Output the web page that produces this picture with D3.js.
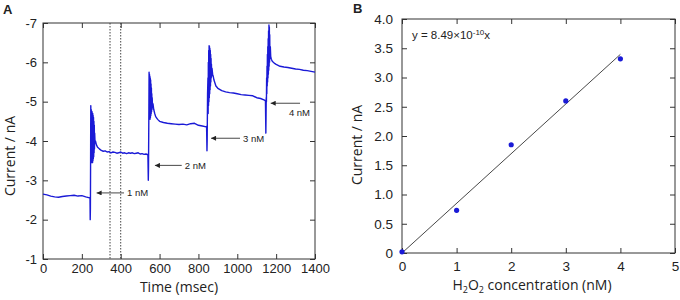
<!DOCTYPE html>
<html lang="en">
<head>
<meta charset="UTF-8">
<title>H2O2 amperometric response</title>
<script src="https://cdn.jsdelivr.net/npm/d3@7/dist/d3.min.js"></script>
<style>
  body { margin: 0; background: #fff; }
  svg text { fill: #222; }
  .tick text { font-family: Arial, "Liberation Sans", sans-serif; font-size: 13px; }
  .panelB .tick text { font-size: 13.5px; }
  .title { font-family: "Open Sans", sans-serif; font-size: 14px; }
</style>
</head>
<body>
<div id="chart"></div>
<script>
// panel A: current trace (msec, nA)
const timeMs = [0, 20, 40, 60, 80, 100, 120, 140, 160, 180, 200, 220, 235, 242,
  243, 244, 245, 246, 247, 248, 249, 250, 251, 252, 253, 254, 255, 256, 257, 258, 259, 260,
  261, 262, 263, 264, 265, 266, 268, 270, 275, 280, 290, 300, 310, 320, 330, 340, 350, 360,
  370, 380, 390, 400, 410, 420, 430, 440, 450, 460, 470, 480, 490, 500, 510, 520, 530, 540,
  542, 543, 545, 546, 547, 548, 549, 550, 551, 552, 553, 554, 555, 556, 557, 558, 559, 560,
  561, 562, 564, 566, 570, 575, 580, 590, 600, 620, 640, 660, 680, 700, 720, 740, 760, 780,
  800, 820, 840, 842,
  844, 845, 847, 849, 850, 851, 852, 853, 854, 855, 856, 857, 858, 859, 860, 861, 862, 863,
  864, 865, 866, 867, 868, 870, 873, 876, 880, 890, 900, 920, 940, 960, 980, 1000, 1020,
  1040, 1060, 1080, 1100, 1120, 1140, 1145,
  1147, 1148, 1149, 1150, 1151, 1152, 1153, 1154, 1155, 1156, 1157, 1158, 1159, 1160, 1161,
  1162, 1163, 1164, 1165, 1166, 1167, 1168, 1170, 1172, 1175, 1180, 1190, 1200, 1220, 1240,
  1260, 1280, 1300, 1320, 1340, 1360, 1380, 1400];
const currentNA = [-2.65, -2.63, -2.6, -2.58, -2.57, -2.59, -2.6, -2.61, -2.62, -2.6, -2.61, -2.58, -2.56, -2.55,
  -2.0, -2.3, -3.5, -4.9, -3.6, -4.8, -3.5, -4.75, -3.45, -4.75, -3.5, -4.7, -3.45, -4.7, -3.5, -4.65, -3.55, -4.6,
  -3.6, -4.5, -3.7, -4.4, -3.8, -4.2, -3.95, -4.0, -3.9, -3.85, -3.8, -3.76, -3.74, -3.75, -3.72, -3.73, -3.7, -3.72,
  -3.71, -3.69, -3.7, -3.72, -3.69, -3.7, -3.68, -3.7, -3.69, -3.7, -3.68, -3.69, -3.7, -3.67, -3.68, -3.66, -3.67, -3.65,
  -3.0, -3.3, -4.8, -5.75, -4.6, -5.7, -4.6, -5.65, -4.55, -5.6, -4.6, -5.55, -4.65, -5.45, -4.7, -5.35, -4.75, -5.2,
  -4.8, -5.1, -4.85, -4.95, -4.8, -4.7, -4.62, -4.55, -4.5, -4.47, -4.45, -4.44, -4.43, -4.42, -4.43, -4.41, -4.44, -4.45,
  -4.4, -4.38, -4.36, -4.37,
  -3.75, -4.0, -5.2, -5.6, -4.7, -6.0, -4.9, -6.3, -5.0, -6.42, -5.1, -6.4, -5.2, -6.35, -5.3, -6.3, -5.4, -6.2,
  -5.5, -6.1, -5.6, -5.95, -5.65, -5.85, -5.7, -5.65, -5.55, -5.4, -5.34, -5.28, -5.25, -5.23, -5.22, -5.2, -5.18,
  -5.17, -5.16, -5.15, -5.1, -5.08, -5.04, -5.02,
  -4.2, -4.6, -5.1, -5.0, -5.6, -5.2, -5.9, -5.4, -6.2, -5.5, -6.4, -5.6, -6.6, -5.7, -6.8,
  -5.8, -6.95, -5.9, -6.9, -6.0, -6.7, -6.1, -6.4, -6.15, -6.08, -6.03, -5.98, -5.95, -5.9, -5.88,
  -5.87, -5.85, -5.83, -5.82, -5.8, -5.79, -5.77, -5.75];
const markerTimes = [345, 400];
const timeTicks = [0, 200, 400, 600, 800, 1000, 1200, 1400];
const currentTicks = [-1, -2, -3, -4, -5, -6, -7];

// arrow annotations: tip (t, i), tail t, label
const arrowText = ["1 nM", "2 nM", "3 nM", "4 nM"];
const arrowTipT = [276, 576, 865, 1172];
const arrowTipI = [-2.68, -3.38, -4.07, -4.96];
const arrowTailT = [417, 714, 1014, 1323];

// panel B: calibration
const concNM = [0, 1, 2, 3, 4];
const responseNA = [0.02, 0.73, 1.85, 2.6, 3.32];
const fitSlope = 0.849;
const fitRange = [0, 4];
const concTicks = [0, 1, 2, 3, 4, 5];
const respTicks = [0, 0.5, 1, 1.5, 2, 2.5, 3, 3.5, 4];

const W = 680, H = 300;
const svg = d3.select("#chart").append("svg").attr("width", W).attr("height", H);
svg.append("rect").attr("width", W).attr("height", H).attr("fill", "#fff");

const blue = "#1a1ad6";
const frameCol = "#333";

function frame(g, x, y, xt, yt, xfmt, yfmt, xpad, ypad) {
  const [x0, x1] = x.range(), [y0, y1] = y.range();
  g.append("g").attr("transform", `translate(0,${y0})`)
    .call(d3.axisBottom(x).tickValues(xt).tickSize(-5).tickPadding(xpad).tickFormat(xfmt));
  g.append("g").attr("transform", `translate(0,${y1})`)
    .call(d3.axisTop(x).tickValues(xt).tickSize(-5).tickFormat(""));
  g.append("g").attr("transform", `translate(${x0},0)`)
    .call(d3.axisLeft(y).tickValues(yt).tickSize(-5).tickPadding(ypad).tickFormat(yfmt));
  g.append("g").attr("transform", `translate(${x1},0)`)
    .call(d3.axisRight(y).tickValues(yt).tickSize(-5).tickFormat(""));
  g.selectAll(".domain").remove();
  g.selectAll(".tick line").attr("stroke", frameCol);
  g.append("rect").attr("x", x0).attr("y", y1).attr("width", x1 - x0).attr("height", y0 - y1)
    .attr("fill", "none").attr("stroke", frameCol).attr("stroke-width", 1);
}

// ---------- panel A ----------
const gA = svg.append("g").attr("class", "panelA");
const xA = d3.scaleLinear().domain([0, 1400]).range([43, 315]);
const yA = d3.scaleLinear().domain([-1, -7]).range([259, 23]);
frame(gA, xA, yA, timeTicks, currentTicks, d => d, d => String(d), 5, 6);

gA.selectAll(".marker").data(markerTimes).join("line")
  .attr("x1", d => xA(d)).attr("x2", d => xA(d))
  .attr("y1", yA(-7)).attr("y2", yA(-1))
  .attr("stroke", "#444").attr("stroke-width", 1).attr("stroke-dasharray", "1.5,1.5");

const trace = timeMs.map((t, i) => [t, currentNA[i]]);
gA.append("path").datum(trace)
  .attr("fill", "none").attr("stroke", blue).attr("stroke-width", 1.4)
  .attr("stroke-linejoin", "round")
  .attr("d", d3.line().x(d => xA(d[0])).y(d => yA(d[1])));

const defs = svg.append("defs");
defs.append("marker").attr("id", "head").attr("viewBox", "0 0 10 10")
  .attr("refX", 0).attr("refY", 5).attr("markerUnits", "userSpaceOnUse")
  .attr("markerWidth", 6).attr("markerHeight", 5)
  .attr("orient", "auto")
  .append("path").attr("d", "M0,5 L10,0 L10,10 Z").attr("fill", "#222");

arrowText.forEach((lab, i) => {
  const y = yA(arrowTipI[i]);
  gA.append("line")
    .attr("x1", xA(arrowTipT[i])).attr("x2", xA(arrowTailT[i]))
    .attr("y1", y).attr("y2", y)
    .attr("stroke", "#333").attr("stroke-width", 0.9)
    .attr("marker-start", "url(#head)");
  const last = i === arrowText.length - 1;
  gA.append("text")
    .attr("x", last ? xA(arrowTailT[i]) + 10 : xA(arrowTailT[i]) + 3)
    .attr("y", last ? y + 13 : y + 3.5)
    .attr("text-anchor", last ? "end" : "start")
    .attr("font-family", "Arial, 'Liberation Sans', sans-serif")
    .attr("font-size", 9.5)
    .text(lab);
});

gA.append("text").attr("class", "title").attr("x", 179).attr("y", 292)
  .attr("text-anchor", "middle").text("Time (msec)");
gA.append("text").attr("class", "title")
  .attr("transform", "translate(15,156) rotate(-90)")
  .attr("text-anchor", "middle").text("Current / nA");
gA.append("text").attr("x", 3).attr("y", 14)
  .attr("font-family", "Arial, 'Liberation Sans', sans-serif")
  .attr("font-size", 13).attr("font-weight", "bold").text("A");

// ---------- panel B ----------
const gB = svg.append("g").attr("class", "panelB");
const xB = d3.scaleLinear().domain([0, 5]).range([402, 675]);
const yB = d3.scaleLinear().domain([0, 4]).range([253, 19]);
frame(gB, xB, yB, concTicks, respTicks, d => d, d => d === 0 ? "0" : d3.format(".1f")(d), 8, 9);

gB.append("line")
  .attr("x1", xB(fitRange[0])).attr("y1", yB(fitSlope * fitRange[0]))
  .attr("x2", xB(fitRange[1])).attr("y2", yB(fitSlope * fitRange[1]))
  .attr("stroke", "#333").attr("stroke-width", 0.9);

gB.selectAll(".pt").data(concNM).join("circle")
  .attr("cx", d => xB(d)).attr("cy", (d, i) => yB(responseNA[i]))
  .attr("r", 2.6).attr("fill", blue);

const eq = gB.append("text").attr("x", 412).attr("y", 39)
  .attr("font-family", "Arial, 'Liberation Sans', sans-serif").attr("font-size", 11.5);
eq.append("tspan").text("y = 8.49×10");
eq.append("tspan").attr("dy", -4).attr("font-size", 8).text("-10");
eq.append("tspan").attr("dy", 4).text("x");

const xl = gB.append("text").attr("class", "title").attr("x", 532).attr("y", 290)
  .attr("text-anchor", "middle");
xl.append("tspan").text("H");
xl.append("tspan").attr("dy", 3).attr("font-size", 9).text("2");
xl.append("tspan").attr("dy", -3).text("O");
xl.append("tspan").attr("dy", 3).attr("font-size", 9).text("2");
xl.append("tspan").attr("dy", -3).text(" concentration (nM)");

gB.append("text").attr("class", "title")
  .attr("transform", "translate(362,145) rotate(-90)")
  .attr("text-anchor", "middle").text("Current / nA");
gB.append("text").attr("x", 353).attr("y", 13)
  .attr("font-family", "Arial, 'Liberation Sans', sans-serif")
  .attr("font-size", 13).attr("font-weight", "bold").text("B");
</script>
</body>
</html>
